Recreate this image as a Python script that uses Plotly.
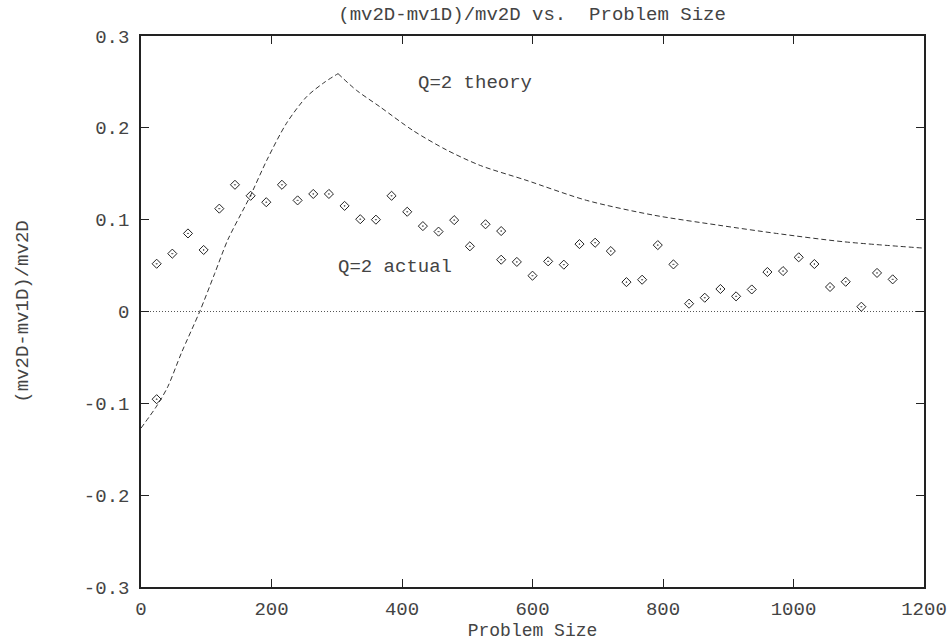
import plotly.graph_objects as go

# Measured data (Q=2 actual)
actual_x = [24, 24, 48, 72, 96, 120, 144, 168, 192, 216, 240, 264, 288, 312, 336, 360,
            384, 408, 432, 456, 480, 504, 528, 552, 552, 576, 600, 624, 648, 672, 696,
            720, 744, 768, 792, 816, 840, 864, 888, 912, 936, 960, 984, 1008, 1032,
            1056, 1080, 1104, 1128, 1152]
actual_y = [0.052, -0.0955, 0.063, 0.085, 0.067, 0.112, 0.138, 0.126, 0.119, 0.138, 0.121,
            0.128, 0.128, 0.115, 0.1005, 0.100, 0.126, 0.1086, 0.093, 0.087, 0.0995,
            0.071, 0.095, 0.0876, 0.0564, 0.054, 0.039, 0.0546, 0.051, 0.0734, 0.0749,
            0.0658, 0.032, 0.0346, 0.0723, 0.0513, 0.0085, 0.015, 0.0245, 0.0165,
            0.024, 0.043, 0.044, 0.059, 0.0517, 0.0267, 0.0324, 0.0052, 0.042, 0.035]

# Theory curve (Q=2 theory): rising branch up to the peak, then falling branch
theory_rise_x = [0, 24, 41, 62, 90, 113, 133, 159, 167, 193, 223, 254, 282, 302]
theory_rise_y = [-0.127, -0.103, -0.082, -0.045, 0.0, 0.0415, 0.078, 0.114, 0.125, 0.165,
                 0.205, 0.234, 0.250, 0.259]
theory_fall_x = [302, 330, 366, 417, 468, 520, 590, 683, 785, 885, 974, 1076, 1200]
theory_fall_y = [0.259, 0.241, 0.223, 0.197, 0.176, 0.159, 0.143, 0.121, 0.105, 0.094,
                 0.085, 0.076, 0.069]

zero_x = [0, 1200]
zero_y = [0, 0]

x_ticks = [0, 200, 400, 600, 800, 1000, 1200]
y_ticks = [-0.3, -0.2, -0.1, 0, 0.1, 0.2, 0.3]
y_tick_text = ["-0.3", "-0.2", "-0.1", "0", "0.1", "0.2", "0.3"]

FONT = "Liberation Mono, Courier New, monospace"
FS = 19
INK = "#444444"

fig = go.Figure()
fig.add_trace(go.Scatter(x=zero_x, y=zero_y, mode="lines",
                         line=dict(color="#555555", width=1, dash="1px,2px"),
                         showlegend=False, hoverinfo="skip"))
for tx, ty in ((theory_rise_x, theory_rise_y), (theory_fall_x, theory_fall_y)):
    fig.add_trace(go.Scatter(x=tx, y=ty, mode="lines",
                             line=dict(color="#333333", width=1, dash="5px,3px",
                                       shape="spline", smoothing=0.8),
                             showlegend=False))
fig.add_trace(go.Scatter(x=actual_x, y=actual_y, mode="markers",
                         marker=dict(symbol="diamond-open-dot", size=7,
                                     color="#222222", line=dict(width=1, color="#222222")),
                         showlegend=False))

fig.add_annotation(x=421, y=0.2486, text="Q=2 theory", showarrow=False,
                   xanchor="left", yanchor="middle", font=dict(family=FONT, size=FS, color=INK))
fig.add_annotation(x=299, y=0.048, text="Q=2 actual", showarrow=False,
                   xanchor="left", yanchor="middle", font=dict(family=FONT, size=FS, color=INK))

fig.update_layout(
    width=951, height=641,
    margin=dict(l=141, r=27, t=36, b=54, autoexpand=False),
    paper_bgcolor="white", plot_bgcolor="white",
    font=dict(family=FONT, size=FS, color=INK),
    title=dict(text="(mv2D-mv1D)/mv2D vs.  Problem Size", x=0.5595, xanchor="center",
               y=1 - 13 / 641, yanchor="middle", yref="container",
               font=dict(family=FONT, size=FS, color=INK)),
    xaxis=dict(range=[0, 1200], tickvals=x_ticks, ticks="inside", ticklen=8,
               showline=True, linecolor="#222222", linewidth=1.5, mirror="ticks",
               tickcolor="#222222", showgrid=False, zeroline=False, automargin=False,
               tickfont=dict(family=FONT, size=FS, color=INK),
               title=dict(text="Problem Size", standoff=3,
                          font=dict(family=FONT, size=18, color=INK)),
               ticklabelstandoff=3),
    yaxis=dict(range=[-0.3, 0.3], tickvals=y_ticks, ticktext=y_tick_text, ticks="inside",
               ticklen=8, showline=True, linecolor="#222222", linewidth=1.5, mirror="ticks",
               tickcolor="#222222", showgrid=False, zeroline=False, automargin=False,
               tickfont=dict(family=FONT, size=FS, color=INK),
               title=dict(text="(mv2D-mv1D)/mv2D", standoff=50,
                          font=dict(family=FONT, size=FS, color=INK)),
               ticklabelstandoff=6),
)

fig.write_html("out.html")
